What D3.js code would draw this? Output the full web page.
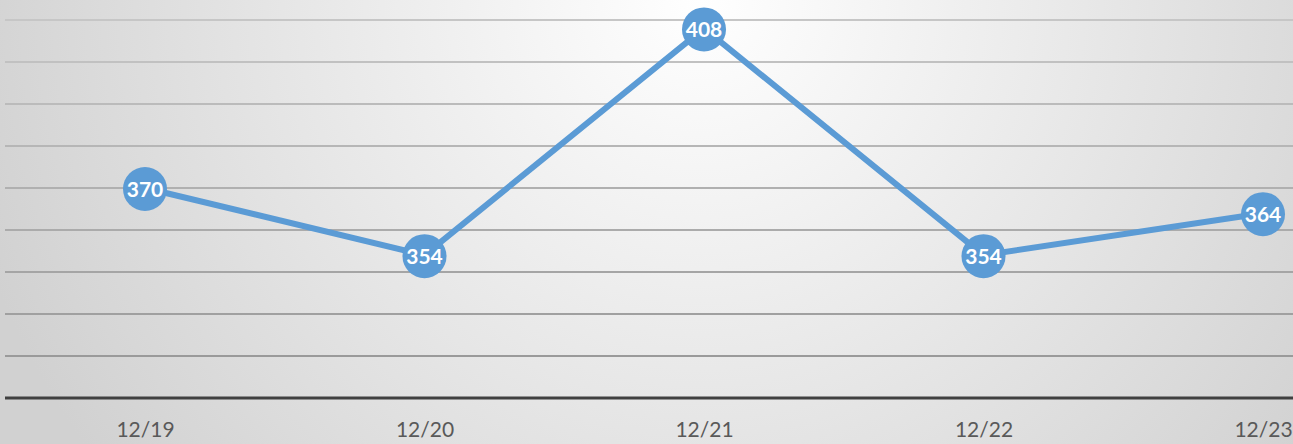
<!DOCTYPE html>
<html lang="en">
<head>
    <meta charset="UTF-8">
    <script src="https://d3js.org/d3.v7.min.js" charset="utf-8"></script>
    <title>Line chart</title>
    <style>
        html, body { margin: 0; padding: 0; overflow: hidden; }
        svg { display: block; }
    </style>
</head>
<body>
<div id="chart"></div>
<script>
    const width = 1293;
    const height = 444;

    // data
    const categories = ["12/19", "12/20", "12/21", "12/22", "12/23"];
    const values = [370, 354, 408, 354, 364];
    const gridTicks = [330, 340, 350, 360, 370, 380, 390, 400, 410];

    const svg = d3.select("#chart").append("svg")
        .attr("width", width)
        .attr("height", height);

    // radial background, light at the top middle
    const defs = svg.append("defs");
    const grad = defs.append("radialGradient")
        .attr("id", "bg")
        .attr("gradientUnits", "userSpaceOnUse")
        .attr("cx", 700).attr("cy", 0).attr("r", 760);
    grad.append("stop").attr("offset", "0%").attr("stop-color", "#ffffff");
    grad.append("stop").attr("offset", "55%").attr("stop-color", "#e6e6e6");
    grad.append("stop").attr("offset", "100%").attr("stop-color", "#d1d1d1");

    svg.append("rect")
        .attr("width", width)
        .attr("height", height)
        .attr("fill", "url(#bg)");

    const x = d3.scalePoint()
        .domain(categories)
        .range([145, 1263]);

    const y = d3.scaleLinear()
        .domain([320, 410])
        .range([398, 20]);

    // gridlines
    const gridColor = d3.interpolate("#c6c6c6", "#9a9a9a");
    svg.append("g")
        .selectAll("line")
        .data(gridTicks)
        .join("line")
        .attr("x1", 5)
        .attr("x2", width)
        .attr("y1", d => y(d))
        .attr("y2", d => y(d))
        .attr("stroke", (d, i) => gridColor(1 - i / (gridTicks.length - 1)))
        .attr("stroke-width", 2);

    // x axis
    const xAxis = svg.append("g")
        .attr("transform", `translate(0,${y(320)})`)
        .call(d3.axisBottom(x).tickSize(0).tickPadding(24));
    xAxis.select(".domain").remove();
    xAxis.append("line")
        .attr("x1", 5)
        .attr("x2", width)
        .attr("stroke", "#404040")
        .attr("stroke-width", 3);
    xAxis.selectAll("text")
        .attr("fill", "#595959")
        .style("font-family", "Lato, 'Open Sans', sans-serif")
        .style("font-size", "21px");

    // the series line
    const line = d3.line()
        .x((d, i) => x(categories[i]))
        .y(d => y(d));

    svg.append("path")
        .datum(values)
        .attr("d", line)
        .attr("fill", "none")
        .attr("stroke", "#5b9bd5")
        .attr("stroke-width", 6)
        .attr("stroke-linejoin", "round");

    // markers with value labels
    const pts = svg.append("g")
        .selectAll("g")
        .data(values)
        .join("g")
        .attr("transform", (d, i) => `translate(${x(categories[i])},${y(d) + 1})`);

    pts.append("circle")
        .attr("r", 22)
        .attr("fill", "#5b9bd5");

    pts.append("text")
        .attr("text-anchor", "middle")
        .attr("dy", "0.36em")
        .attr("fill", "#ffffff")
        .style("font-family", "Lato, 'Open Sans', sans-serif")
        .style("font-weight", "bold")
        .style("font-size", "21px")
        .text(d => d);
</script>
</body>
</html>
